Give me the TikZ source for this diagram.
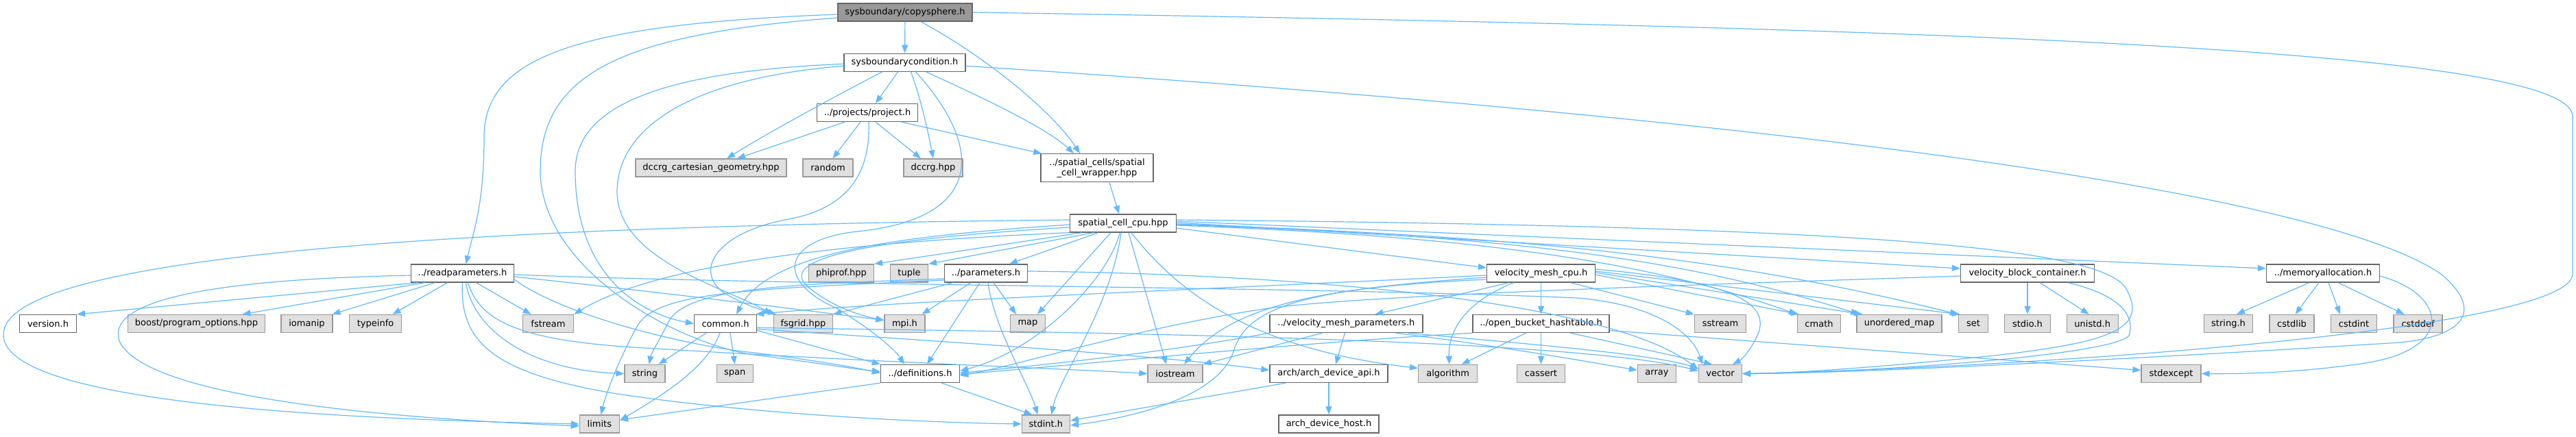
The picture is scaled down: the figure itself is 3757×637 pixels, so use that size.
\documentclass[tikz,border=0pt]{standalone}
\usepackage{fontspec}
\setmainfont{DejaVu Sans}
\usetikzlibrary{arrows.meta}
\definecolor{eblue}{HTML}{63B8FF}
\definecolor{bgray}{HTML}{666666}
\definecolor{lgray}{HTML}{999999}
\definecolor{fgray}{HTML}{E0E0E0}
\begin{document}
\begin{tikzpicture}[x=1pt,y=-1pt,
  nb/.style={draw=bgray, fill=white, line width=1.3pt, minimum height=26pt, inner sep=0pt, font=\fontsize{13}{15}\selectfont},
  ext/.style={nb, draw=lgray, fill=fgray},
  root/.style={nb, fill=lgray},
  e/.style={draw=eblue, line width=1.2pt, -{Triangle[length=12pt,width=9pt]}},
]
\useasboundingbox (0,0) rectangle (3757,637);
% row 0-4
\node[root, minimum width=196pt] (C0) at (1320,18) {sysboundary/copysphere.h};
\node[nb, minimum width=177pt] (S) at (1319.5,91.3) {sysboundarycondition.h};
\node[nb, minimum width=147pt] (P) at (1265,164.5) {../projects/project.h};
\node[ext, minimum width=220pt] (dcg) at (1037,245) {dccrg\_cartesian\_geometry.hpp};
\node[ext, minimum width=73pt] (rnd) at (1207.5,245) {random};
\node[ext, minimum width=86pt] (dccrg) at (1361,245) {dccrg.hpp};
\node[nb, minimum width=164pt, minimum height=41pt, align=center] (W) at (1600,245.3) {../spatial\_cells/spatial\\\_cell\_wrapper.hpp};
\node[nb, minimum width=155pt] (SC) at (1638,326) {spatial\_cell\_cpu.hpp};
% row 5
\node[nb, minimum width=150pt] (RP) at (674.5,399) {../readparameters.h};
\node[ext, minimum width=95pt] (phi) at (1227,399) {phiprof.hpp};
\node[ext, minimum width=55pt] (tup) at (1326,399) {tuple};
\node[nb, minimum width=121pt] (par) at (1438,399) {../parameters.h};
\node[nb, minimum width=158pt] (vmc) at (2247.5,399) {velocity\_mesh\_cpu.h};
\node[nb, minimum width=195pt] (vbc) at (2957,399) {velocity\_block\_container.h};
\node[nb, minimum width=165pt] (mem) at (3388,399) {../memoryallocation.h};
% row 6
\node[nb, minimum width=83pt] (ver) at (70,472.5) {version.h};
\node[ext, minimum width=200pt] (boost) at (286.5,472.5) {boost/program\_options.hpp};
\node[ext, minimum width=75pt] (ioman) at (447.5,472.5) {iomanip};
\node[ext, minimum width=76pt] (tinfo) at (547.6,472.5) {typeinfo};
\node[ext, minimum width=74pt] (fstr) at (799.5,472.5) {fstream};
\node[nb, minimum width=91pt] (com) at (1058,472.5) {common.h};
\node[ext, minimum width=86pt] (fsg) at (1171.4,472.5) {fsgrid.hpp};
\node[ext, minimum width=59pt] (mpi) at (1319.5,472.5) {mpi.h};
\node[ext, minimum width=50.5pt] (map) at (1499,472.5) {map};
\node[nb, minimum width=223pt] (vmp) at (1963.4,472.5) {../velocity\_mesh\_parameters.h};
\node[nb, minimum width=199pt] (obh) at (2247.5,472.5) {../open\_bucket\_hashtable.h};
\node[ext, minimum width=75pt] (sstr) at (2509,472.5) {sstream};
\node[ext, minimum width=63pt] (cmath) at (2653,472.5) {cmath};
\node[ext, minimum width=124pt] (umap) at (2770,472.5) {unordered\_map};
\node[ext, minimum width=43pt] (set) at (2878,472.5) {set};
\node[ext, minimum width=67pt] (stdio) at (2957,472.5) {stdio.h};
\node[ext, minimum width=75pt] (unistd) at (3051.7,472.5) {unistd.h};
\node[ext, minimum width=71pt] (strh) at (3250,472.5) {string.h};
\node[ext, minimum width=65pt] (cstdlib) at (3342.5,472.5) {cstdlib};
\node[ext, minimum width=67pt] (cstdint) at (3433,472.5) {cstdint};
\node[ext, minimum width=71pt] (cstddef) at (3526.5,472.5) {cstddef};
% row 7
\node[ext, minimum width=59pt] (str) at (940.5,545.5) {string};
\node[ext, minimum width=53pt] (span) at (1071.7,545.5) {span};
\node[nb, minimum width=115pt] (defs) at (1342,545.5) {../definitions.h};
\node[ext, minimum width=80pt] (ios) at (1714,545.5) {iostream};
\node[nb, minimum width=172pt] (api) at (1938,545.5) {arch/arch\_device\_api.h};
\node[ext, minimum width=86pt] (alg) at (2111.7,545.5) {algorithm};
\node[ext, minimum width=70pt] (cass) at (2247.5,545.5) {cassert};
\node[ext, minimum width=56pt] (arr) at (2416.5,545.5) {array};
\node[ext, minimum width=63pt] (vec) at (2509,545.5) {vector};
\node[ext, minimum width=87pt] (sexc) at (3166.5,545.5) {stdexcept};
% row 8
\node[ext, minimum width=58pt] (lim) at (874.4,619) {limits};
\node[ext, minimum width=70pt] (sint) at (1525.4,619) {stdint.h};
\node[nb, minimum width=146pt] (host) at (1938,619) {arch\_device\_host.h};

% ---- copysphere
\draw[e] (C0) -- (S);
\draw[e] ([yshift=-3pt]C0.west) .. controls (850,35) and (706,80) .. (706,200) .. controls (706,300) and (690,340) .. ([xshift=5pt]RP.north);
\draw[e] ([yshift=-8pt]C0.west) .. controls (900,50) and (788,110) .. (788,250) .. controls (790,400) and (1000,505) .. (1100,518) .. controls (1180,528) and (1240,538) .. ([yshift=3pt]defs.west);
\draw[e] ([xshift=23pt]C0.south) .. controls (1450,90) and (1540,170) .. ([xshift=-25pt]W.north);
\draw[e] (C0.east) .. controls (2800,40) and (3752,70) .. (3752,170) -- (3752,400) .. controls (3752,480) and (3000,535) .. (vec.east);
% ---- sysboundarycondition
\draw[e] ([yshift=-2pt]S.west) .. controls (950,105) and (839,160) .. (839,250) .. controls (839,390) and (920,455) .. (com.west);
\draw[e] ([yshift=-5pt]S.west) .. controls (1000,115) and (900,190) .. (900,280) .. controls (900,380) and (1060,420) .. ([xshift=-2pt]fsg.north west);
\draw[e] ([xshift=-33pt]S.south) .. controls (1200,150) and (1110,200) .. ([xshift=23pt]dcg.north);
\draw[e] ([xshift=-10pt]S.south) -- ([xshift=12pt]P.north);
\draw[e] ([xshift=9pt]S.south) .. controls (1345,150) and (1355,200) .. (dccrg.north);
\draw[e] ([xshift=16pt]S.south) .. controls (1440,220) and (1430,320) .. (1250,338) .. controls (1140,350) and (1130,410) .. (1220,450) .. controls (1270,480) and (1305,510) .. ([xshift=-23pt]defs.north);
\draw[e] ([xshift=31pt]S.south) .. controls (1450,150) and (1530,190) .. ([xshift=-34pt]W.north);
\draw[e] ([yshift=-5pt]S.east) .. controls (2700,180) and (3400,290) .. (3560,400) .. controls (3620,450) and (3600,490) .. (3500,500) .. controls (3100,525) and (2700,545) .. (vec.east);
% ---- project
\draw[e] ([xshift=-33pt]P.south) -- ([xshift=38pt]dcg.north);
\draw[e] ([xshift=-10pt]P.south) -- ([xshift=7pt]rnd.north);
\draw[e] ([xshift=12pt]P.south) -- ([xshift=-18pt]dccrg.north);
\draw[e] ([xshift=50pt]P.south) -- ([xshift=2pt]W.north west);
\draw[e] ([xshift=2pt]P.south) .. controls (1270,260) and (1230,305) .. (1150,320) .. controls (1040,340) and (1010,400) .. (1060,430) .. controls (1090,447) and (1110,452) .. ([xshift=4pt]fsg.north west);
% ---- wrapper
\draw[e] ([xshift=18pt]W.south) -- ([xshift=-6pt]SC.north);
% ---- spatial_cell_cpu
\draw[e] ([xshift=-60pt]SC.south) -- (phi.north east);
\draw[e] ([xshift=-43pt]SC.south) -- (tup.north east);
\draw[e] ([xshift=-36pt]SC.south) -- ([xshift=34pt]par.north);
\draw[e] ([xshift=-18pt]SC.south) -- ([xshift=14pt]map.north);
\draw[e] ([xshift=-5pt]SC.south) .. controls (1620,400) and (1520,510) .. ([yshift=4pt]defs.east);
\draw[e] ([xshift=-3pt]SC.south) .. controls (1620,450) and (1545,550) .. ([xshift=8pt]sint.north);
\draw[e] ([xshift=8pt]SC.south) -- ([xshift=-13pt]ios.north);
\draw[e] ([xshift=12pt]SC.south) .. controls (1720,430) and (1830,510) .. ([yshift=8pt]alg.west);
\draw[e] ([yshift=-7pt]SC.east) -- ([yshift=8pt]vmc.west);
\draw[e] ([yshift=1pt]SC.east) -- ([yshift=7pt]vbc.west);
\draw[e] ([yshift=3pt]SC.east) -- ([yshift=7pt]mem.west);
\draw[e] ([yshift=-3pt]SC.east) .. controls (2150,345) and (2400,380) .. (cmath.north west);
\draw[e] ([yshift=-2pt]SC.east) .. controls (2200,345) and (2450,375) .. ([xshift=4pt]umap.north west);
\draw[e] ([yshift=-1pt]SC.east) .. controls (2200,345) and (2500,370) .. (set.north west);
\draw[e] ([yshift=5pt]SC.east) .. controls (2700,330) and (3060,360) .. (3100,420) .. controls (3135,480) and (3080,500) .. (2900,520) .. controls (2700,540) and (2600,545) .. (vec.east);
\draw[e] ([yshift=-2pt]SC.west) .. controls (1300,345) and (1120,370) .. ([xshift=16pt]com.north);
\draw[e] ([yshift=-6pt]SC.west) .. controls (1250,350) and (1130,380) .. (1180,420) .. controls (1210,445) and (1250,460) .. ([yshift=5pt]mpi.west);
\draw[e] ([yshift=5pt]SC.west) .. controls (700,330) and (0,370) .. (5,490) .. controls (10,590) and (500,612) .. (lim.west);
\draw[e] (SC.south west) .. controls (1200,355) and (950,390) .. (fstr.north east);
% ---- readparameters
\draw[e] ([xshift=-65pt]RP.south) -- (ver.north east);
\draw[e] ([xshift=-55pt]RP.south) -- ([xshift=67pt]boost.north);
\draw[e] ([xshift=-40pt]RP.south) -- ([xshift=37pt]ioman.north);
\draw[e] ([xshift=-22pt]RP.south) -- ([xshift=25pt]tinfo.north);
\draw[e] ([xshift=20pt]RP.south) -- ([xshift=-25pt]fstr.north);
\draw[e] ([yshift=-3pt]RP.west) .. controls (300,408) and (150,440) .. (175,500) .. controls (220,585) and (600,612) .. ([yshift=-3pt]lim.west);
\draw[e] ([xshift=5pt]RP.south) .. controls (690,480) and (770,540) .. (str.west);
\draw[e] ([xshift=8pt]RP.south) .. controls (700,470) and (760,498) .. (940,508) .. controls (1300,530) and (1550,538) .. (ios.west);
\draw[e] (RP.south) .. controls (670,500) and (720,545) .. (900,575) .. controls (1100,605) and (1350,617) .. (sint.west);
\draw[e] ([yshift=-9pt]RP.east) .. controls (820,460) and (1000,505) .. (1100,515) .. controls (1180,525) and (1240,535) .. ([yshift=1pt]defs.west);
\draw[e] ([yshift=-5pt]RP.east) .. controls (950,425) and (1150,450) .. ([yshift=5pt]mpi.west);
\draw[e] ([yshift=-2pt]RP.east) .. controls (1200,418) and (1900,418) .. (2300,435) .. controls (2420,445) and (2470,490) .. ([xshift=6pt]vec.north west);
% ---- parameters
\draw[e] ([yshift=-8pt]par.west) .. controls (1150,415) and (1000,420) .. (975,470) .. controls (960,500) and (950,515) .. ([xshift=6pt]str.north);
\draw[e] ([yshift=-10pt]par.west) .. controls (1100,422) and (960,425) .. (930,475) .. controls (905,520) and (885,570) .. ([xshift=2pt]lim.north);
\draw[e] ([xshift=-48pt]par.south) -- (fsg.north east);
\draw[e] ([xshift=-22pt]par.south) -- ([xshift=25pt]mpi.north);
\draw[e] ([xshift=-9pt]par.south) -- ([xshift=10pt]defs.north);
\draw[e] ([xshift=3pt]par.south) .. controls (1450,480) and (1500,560) .. ([xshift=-12pt]sint.north);
\draw[e] ([xshift=11pt]par.south) -- ([xshift=-17pt]map.north);
\draw[e] ([yshift=3pt]par.east) .. controls (1900,400) and (2350,440) .. ([yshift=6pt]vec.west);
% ---- common
\draw[e] ([xshift=-28pt]com.south) -- ([xshift=20pt]str.north);
\draw[e] ([xshift=7pt]com.south) -- (span.north);
\draw[e] ([xshift=-8pt]com.south) .. controls (1030,540) and (960,580) .. ([yshift=5pt]lim.east);
\draw[e] ([yshift=-10pt]com.east) -- (defs.north west);
\draw[e] ([yshift=-8pt]com.east) .. controls (1400,500) and (1700,520) .. ([yshift=5pt]api.west);
\draw[e] ([yshift=-6pt]com.east) .. controls (1600,485) and (2300,495) .. ([yshift=4pt]vec.west);
% ---- definitions
\draw[e] (defs.south west) -- ([yshift=6pt]lim.east);
\draw[e] ([xshift=-27pt]defs.south east) -- ([xshift=-20pt]sint.north);
% ---- arch api
\draw[e] (api.south) -- (host.north);
\draw[e] ([xshift=-63pt]api.south) -- ([yshift=5pt]sint.east);
% ---- velocity_mesh_parameters
\draw[e] ([xshift=-35pt]vmp.south) -- (ios.north east);
\draw[e] ([xshift=-2pt]vmp.south) -- ([xshift=10pt]api.north);
\draw[e] (vmp.south west) .. controls (1700,515) and (1500,535) .. ([yshift=1pt]defs.east);
\draw[e] ([xshift=72pt]vmp.south) .. controls (2150,500) and (2300,525) .. ([yshift=5pt]arr.west);
\draw[e] ([xshift=90pt]vmp.south) .. controls (2200,500) and (2400,515) .. ([yshift=8pt]vec.west);
% ---- open_bucket_hashtable
\draw[e] ([xshift=-22pt]obh.south) -- ([xshift=20pt]alg.north);
\draw[e] (obh.south) -- (cass.north);
\draw[e] ([xshift=43pt]obh.south) -- ([xshift=-12pt]vec.north);
\draw[e] ([yshift=-10pt]obh.east) -- ([yshift=5pt]sexc.west);
\draw[e] (obh.south west) .. controls (1900,500) and (1600,530) .. ([yshift=-1pt]defs.east);
% ---- velocity_mesh_cpu
\draw[e] ([xshift=-47pt]vmc.south) -- ([xshift=42pt]vmp.north);
\draw[e] (vmc.south) -- (obh.north);
\draw[e] ([xshift=-40pt]vmc.south) .. controls (2140,440) and (2112,480) .. ([xshift=2pt]alg.north);
\draw[e] ([xshift=43pt]vmc.south) -- (sstr.north west);
\draw[e] ([yshift=-2pt]vmc.east) -- ([xshift=3pt]cmath.north west);
\draw[e] ([yshift=1pt]vmc.east) -- ([xshift=9pt]umap.north west);
\draw[e] ([yshift=3pt]vmc.east) -- ([xshift=3pt]set.north west);
\draw[e] ([yshift=6pt]vmc.east) .. controls (2520,410) and (2580,440) .. (2565,485) .. controls (2555,510) and (2540,525) .. ([xshift=18pt]vec.north);
\draw[e] ([yshift=-3pt]vmc.west) .. controls (1700,425) and (1300,440) .. ([xshift=-2pt]com.north east);
\draw[e] ([yshift=-6pt]vmc.west) .. controls (1950,420) and (1800,440) .. ([xshift=13pt]ios.north);
\draw[e] ([yshift=-9pt]vmc.west) .. controls (1900,420) and (1820,450) .. (1800,510) .. controls (1780,580) and (1650,610) .. ([yshift=-2pt]sint.east);
% ---- velocity_block_container
\draw[e] (vbc.south) -- (stdio.north);
\draw[e] ([xshift=18pt]vbc.south) -- ([xshift=-5pt]unistd.north);
\draw[e] ([xshift=59pt]vbc.south) .. controls (3090,430) and (3115,460) .. (3105,490) .. controls (3080,520) and (2700,545) .. (vec.east);
\draw[e] ([yshift=-4pt]vbc.west) .. controls (2500,415) and (2000,430) .. (1850,450) .. controls (1650,480) and (1500,530) .. ([yshift=-3pt]defs.east);
% ---- memoryallocation
\draw[e] ([xshift=-20pt]mem.south) -- ([xshift=12pt]strh.north);
\draw[e] ([xshift=-6pt]mem.south) -- ([xshift=5pt]cstdlib.north);
\draw[e] ([xshift=8pt]mem.south) -- ([xshift=-20pt]cstdint.north);
\draw[e] ([xshift=22pt]mem.south) -- ([xshift=-20pt]cstddef.north);
\draw[e] ([yshift=-4pt]mem.east) .. controls (3570,430) and (3580,510) .. (3450,530) .. controls (3350,545) and (3260,546) .. (sexc.east);
\end{tikzpicture}
\end{document}
